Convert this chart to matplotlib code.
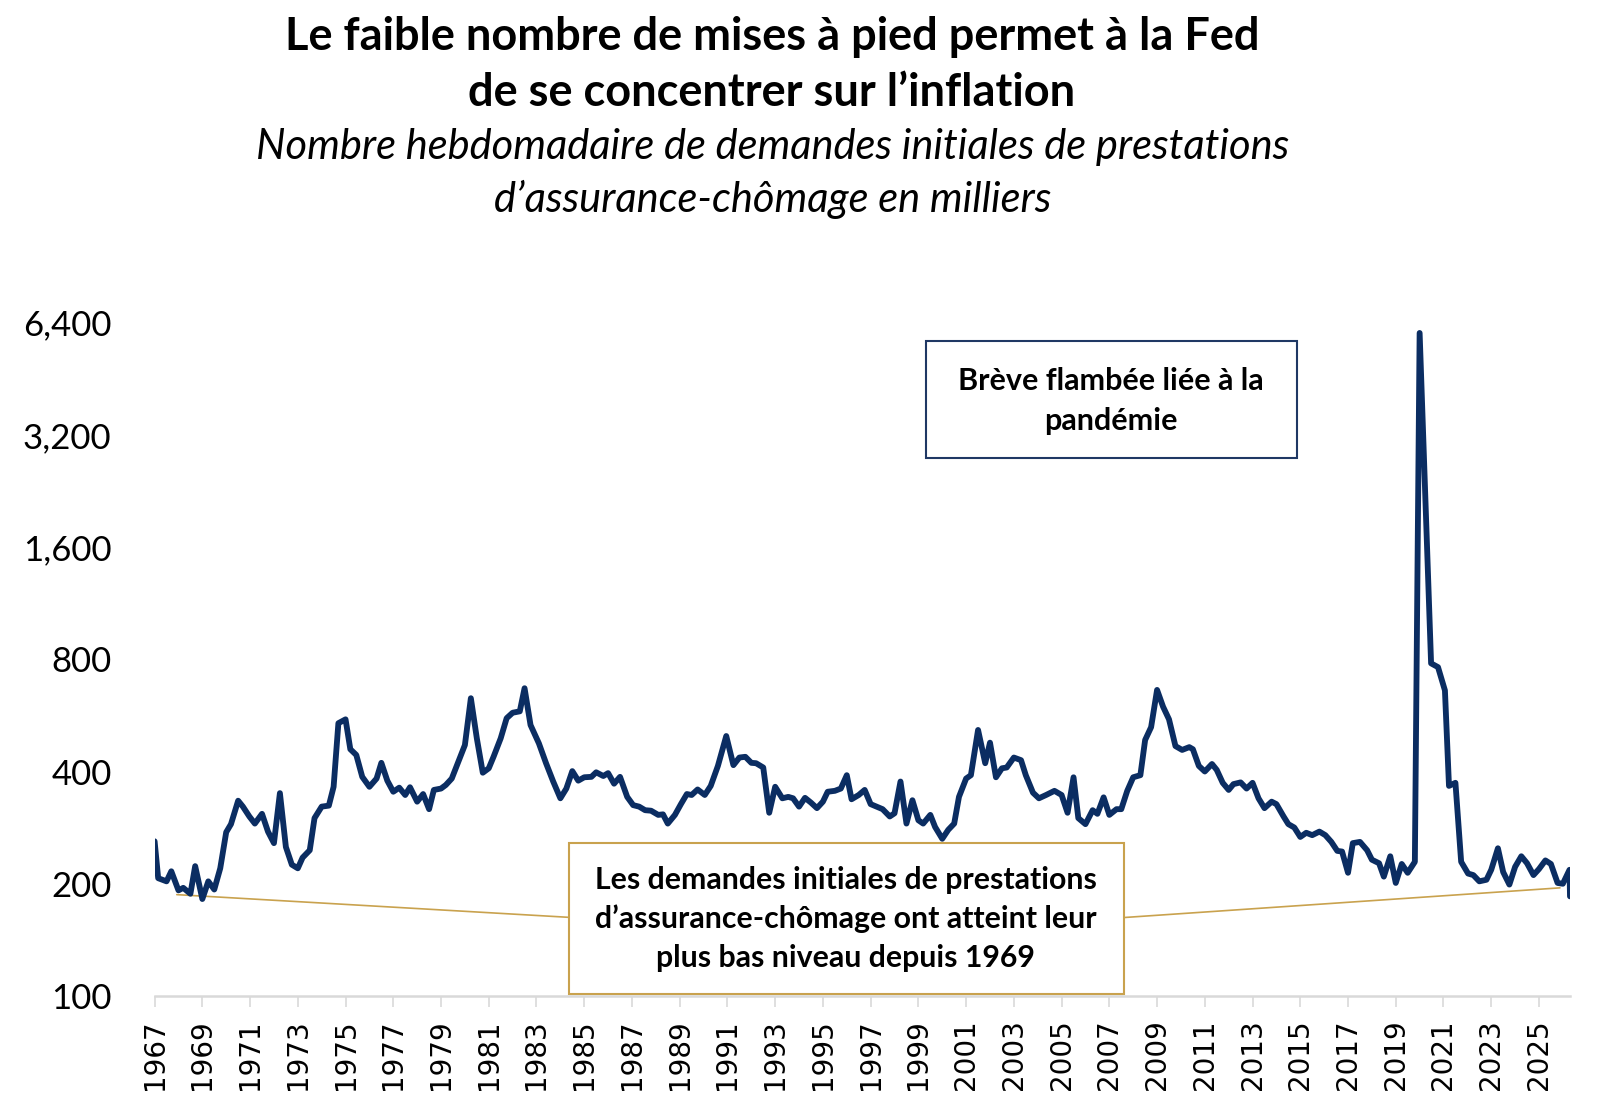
import matplotlib
matplotlib.use("Agg")
import matplotlib.pyplot as plt
from matplotlib.patches import Rectangle
from matplotlib.ticker import FixedLocator, FuncFormatter, NullLocator

# Weekly initial jobless claims (thousands)
years = [
    1967.0, 1967.15, 1967.5, 1967.7, 1968.0, 1968.2, 1968.5, 1968.7, 1969.0, 1969.25,
    1969.5, 1969.75, 1970.0, 1970.2, 1970.5, 1970.7, 1970.97, 1971.2, 1971.5, 1971.75,
    1972.0, 1972.25, 1972.5, 1972.75, 1973.0, 1973.2, 1973.5, 1973.7, 1974.0, 1974.3,
    1974.5, 1974.7, 1975.0, 1975.2, 1975.45, 1975.7, 1976.0, 1976.3, 1976.5, 1976.75,
    1977.0, 1977.25, 1977.5, 1977.7, 1978.0, 1978.25, 1978.5, 1978.7, 1979.0, 1979.2,
    1979.45, 1979.7, 1980.0, 1980.25, 1980.5, 1980.75, 1981.0, 1981.2, 1981.5, 1981.75,
    1982.0, 1982.3, 1982.5, 1982.75, 1983.1, 1983.4, 1983.7, 1984.0, 1984.25, 1984.5,
    1984.75, 1985.0, 1985.3, 1985.5, 1985.8, 1986.0, 1986.25, 1986.5, 1986.8, 1987.05,
    1987.3, 1987.55, 1987.8, 1988.1, 1988.3, 1988.5, 1988.8, 1989.05, 1989.3, 1989.5,
    1989.75, 1990.05, 1990.3, 1990.6, 1990.95, 1991.25, 1991.5, 1991.75, 1992.0, 1992.2,
    1992.5, 1992.75, 1993.0, 1993.3, 1993.55, 1993.75, 1994.0, 1994.25, 1994.5, 1994.75,
    1995.0, 1995.2, 1995.5, 1995.75, 1996.0, 1996.2, 1996.5, 1996.75, 1997.0, 1997.25,
    1997.5, 1997.8, 1998.0, 1998.25, 1998.5, 1998.75, 1999.0, 1999.2, 1999.5, 1999.7,
    2000.0, 2000.25, 2000.5, 2000.7, 2001.0, 2001.2, 2001.5, 2001.8, 2002.0, 2002.25,
    2002.5, 2002.7, 2003.0, 2003.3, 2003.5, 2003.8, 2004.05, 2004.35, 2004.7, 2005.0,
    2005.25, 2005.5, 2005.7, 2006.0, 2006.3, 2006.5, 2006.76, 2007.0, 2007.3, 2007.5,
    2007.75, 2008.0, 2008.3, 2008.5, 2008.75, 2009.0, 2009.25, 2009.5, 2009.77, 2010.05,
    2010.35, 2010.5, 2010.75, 2011.0, 2011.3, 2011.5, 2011.75, 2012.0, 2012.2, 2012.5,
    2012.75, 2013.0, 2013.25, 2013.5, 2013.8, 2014.0, 2014.3, 2014.5, 2014.75, 2015.0,
    2015.25, 2015.5, 2015.8, 2016.05, 2016.3, 2016.55, 2016.75, 2017.0, 2017.2, 2017.5,
    2017.8, 2018.0, 2018.3, 2018.5, 2018.77, 2019.0, 2019.25, 2019.5, 2019.8, 2020.0,
    2020.48, 2020.77, 2021.06, 2021.23, 2021.5, 2021.74, 2022.03, 2022.25, 2022.5, 2022.8,
    2023.0, 2023.28, 2023.5, 2023.76, 2024.0, 2024.26, 2024.5, 2024.77, 2025.0, 2025.27,
    2025.5, 2025.78, 2026.0, 2026.28, 2026.3,
]
claims = [
    260, 207, 203, 216, 192, 195, 188, 223, 182, 203,
    193, 220, 275, 289, 334, 322, 303, 290, 308, 276,
    257, 350, 251, 225, 220, 235, 246, 300, 322, 324,
    364, 539, 552, 459, 443, 387, 364, 383, 422, 378,
    353, 362, 346, 363, 332, 348, 317, 357, 360, 368,
    383, 421, 471, 629, 491, 397, 408, 438, 491, 556,
    575, 580, 669, 533, 476, 421, 376, 339, 360, 401,
    378, 386, 387, 398, 389, 396, 371, 387, 342, 325,
    322, 315, 314, 306, 307, 290, 306, 327, 348, 346,
    358, 346, 366, 414, 498, 416, 436, 438, 422, 421,
    410, 310, 364, 339, 342, 339, 322, 340, 330, 319,
    332, 353, 355, 360, 391, 337, 346, 357, 327, 322,
    317, 303, 309, 376, 290, 335, 296, 290, 306, 284,
    264, 279, 290, 342, 383, 391, 517, 421, 478, 386,
    408, 410, 436, 429, 391, 351, 339, 346, 355, 346,
    310, 386, 300, 289, 315, 308, 341, 306, 317, 317,
    355, 386, 391, 486, 526, 662, 597, 552, 468, 457,
    465, 459, 414, 400, 419, 404, 373, 357, 370, 374,
    360, 373, 339, 319, 332, 327, 303, 289, 283, 267,
    274, 270, 276, 270, 259, 245, 244, 214, 257, 259,
    246, 232, 227, 209, 237, 201, 226, 214, 229, 6000,
    780, 762, 660, 366, 373, 229, 213, 211, 203, 205,
    218, 249, 215, 199, 222, 237, 227, 211, 219, 231,
    226, 201, 200, 218, 185,
]

y_ticks = [100, 200, 400, 800, 1600, 3200, 6400]
x_ticks = list(range(1967, 2026, 2))

title_lines = ["Le faible nombre de mises à pied permet à la Fed",
               "de se concentrer sur l\u2019inflation"]
subtitle_lines = ["Nombre hebdomadaire de demandes initiales de prestations",
                  "d\u2019assurance-chômage en milliers"]
note_pandemic = ["Brève flambée liée à la", "pandémie"]
note_low = ["Les demandes initiales de prestations",
            "d\u2019assurance-chômage ont atteint leur",
            "plus bas niveau depuis 1969"]

NAVY = "#0B2D62"
GOLD = "#C9A24E"
FONT = ["Lato", "DejaVu Sans"]

W, H = 1600, 1114
fig = plt.figure(figsize=(W / 100, H / 100), dpi=100)


def fx(px):
    return px / W


def fy(py):
    return 1 - py / H


ax = fig.add_axes([fx(154.6), fy(996), fx(1570) - fx(154.6), (996 - 308) / H])
ax.plot(years, claims, color=NAVY, lw=4.2, solid_joinstyle="round", solid_capstyle="round", zorder=3)

ax.set_yscale("log", base=2)
ax.set_ylim(100, 7000)
ax.set_xlim(1967, 2026.3)
ax.yaxis.set_major_locator(FixedLocator(y_ticks))
ax.yaxis.set_minor_locator(NullLocator())
ax.yaxis.set_major_formatter(FuncFormatter(lambda v, p: f"{int(v):,}"))
ax.tick_params(axis="y", length=0, pad=31, labelsize=25)
for lab in ax.get_yticklabels():
    lab.set_family(FONT)

ax.set_xticks(x_ticks)
ax.set_xticklabels([str(y) for y in x_ticks], rotation=90, family="DejaVu Sans", fontsize=20)
ax.tick_params(axis="x", length=8, width=1.2, color="#D9D9D9", pad=9)

for s in ["top", "right", "left"]:
    ax.spines[s].set_visible(False)
ax.spines["bottom"].set_color("#D9D9D9")
ax.spines["bottom"].set_linewidth(1.8)
ax.patch.set_visible(False)

# titles
for txt, yb in zip(title_lines, [50, 106]):
    fig.text(fx(772), fy(yb), txt, ha="center", va="baseline",
             fontsize=32.5, fontweight="bold", family=FONT)
for txt, yb in zip(subtitle_lines, [159, 211.7]):
    fig.text(fx(773), fy(yb), txt, ha="center", va="baseline",
             fontsize=30, style="italic", family=FONT)

# pandemic box
fig.patches.append(Rectangle((fx(925.7), fy(458.3)), fx(1296.7) - fx(925.7), (458.3 - 341) / H,
                             transform=fig.transFigure, facecolor="white", edgecolor="#1F3864", lw=1.5, zorder=5))
for txt, yb in zip(note_pandemic, [390, 430]):
    fig.text(fx(1110.7), fy(yb), txt, ha="center", va="baseline", fontsize=22, fontweight="bold",
             family=FONT, zorder=6)

# low-level box + connectors
ax.annotate("", xy=(1967.93, 187), xytext=(568.3, H - 917.3), textcoords="figure pixels",
            arrowprops=dict(arrowstyle="-", color=GOLD, lw=1.2, shrinkA=0, shrinkB=0), zorder=2)
ax.annotate("", xy=(2025.88, 195), xytext=(1124.5, H - 917.5), textcoords="figure pixels",
            arrowprops=dict(arrowstyle="-", color=GOLD, lw=1.2, shrinkA=0, shrinkB=0), zorder=2)
fig.patches.append(Rectangle((fx(569), fy(994)), fx(1124) - fx(569), (994 - 843.3) / H,
                             transform=fig.transFigure, facecolor="white", edgecolor=GOLD, lw=1.5, zorder=5))
for txt, yb in zip(note_low, [889.3, 928.3, 967.3]):
    fig.text(fx(845.8), fy(yb), txt, ha="center", va="baseline", fontsize=21.8, fontweight="bold",
             family=FONT, zorder=6)

fig.savefig("out.png", dpi=100, facecolor="white")
